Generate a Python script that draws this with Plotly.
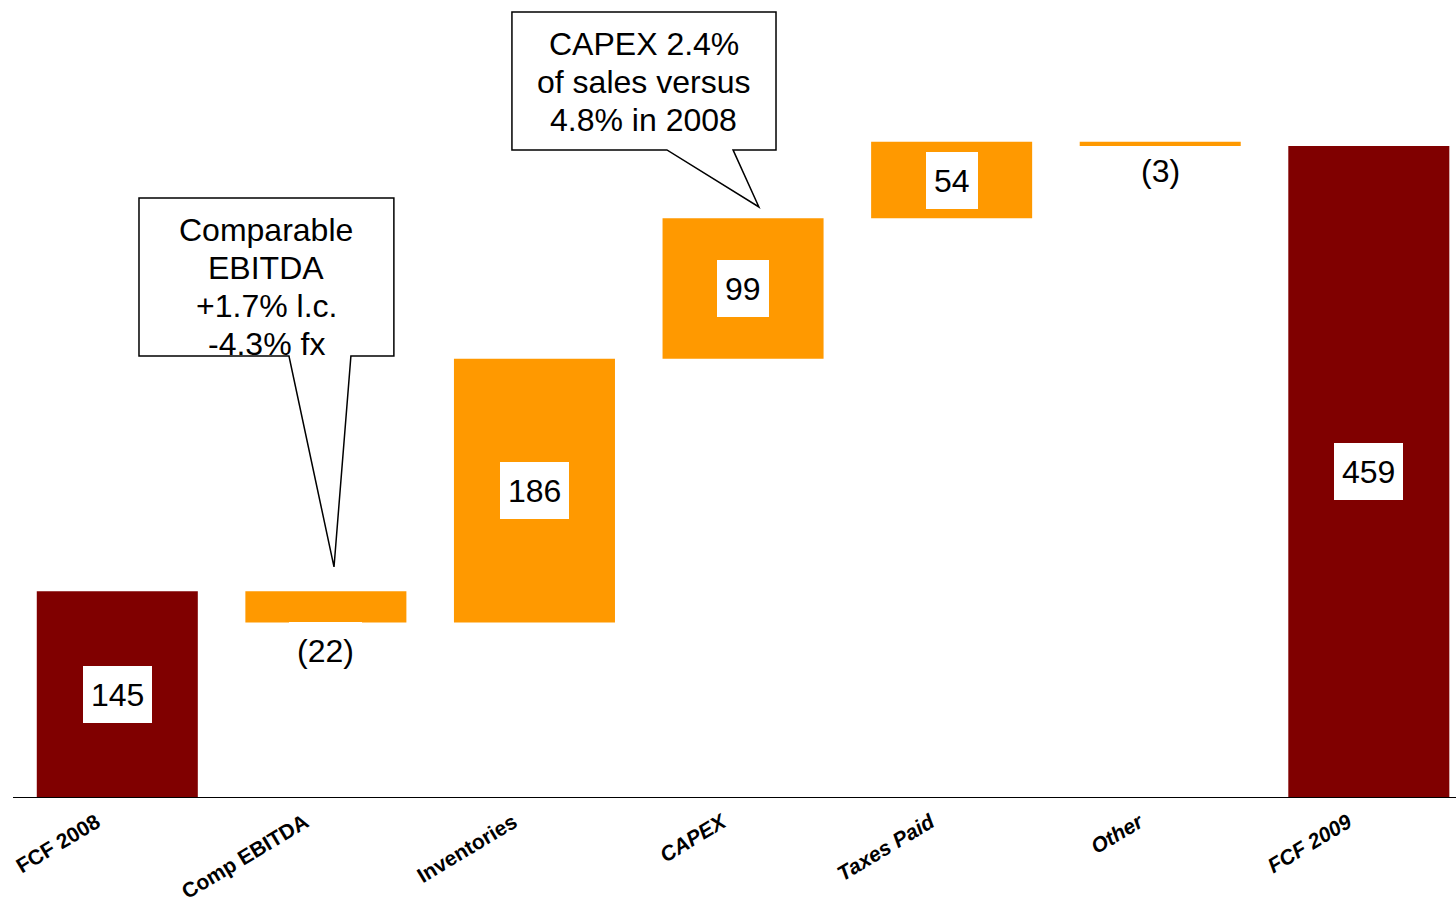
import plotly.graph_objects as go

# Free cash flow bridge, 2008 -> 2009
categories = ["FCF 2008", "Comp EBITDA", "Inventories", "CAPEX", "Taxes Paid", "Other", "FCF 2009"]
changes = [145, -22, 186, 99, 54, -3, 459]
measures = ["absolute", "relative", "relative", "relative", "relative", "relative", "total"]
tick_labels = [
    "<b>FCF 2008</b>", "<b>Comp EBITDA</b>", "<b>Inventories</b>",
    "<b><i>CAPEX</i></b>", "<b><i>Taxes Paid</i></b>", "<b><i>Other</i></b>", "<b><i>FCF 2009</i></b>",
]
callout_lines = [
    ["Comparable", "EBITDA", "+1.7% l.c.", "-4.3% fx"],
    ["CAPEX 2.4%", "of sales versus", "4.8% in 2008"],
]

ORANGE = "#FF9900"
DARK_RED = "#800000"
FONT = "Liberation Sans, Arial, sans-serif"

x = list(range(len(categories)))

fig = go.Figure(go.Waterfall(
    x=x,
    y=changes,
    measure=measures,
    width=0.772,
    increasing=dict(marker=dict(color=ORANGE)),
    decreasing=dict(marker=dict(color=ORANGE)),
    totals=dict(marker=dict(color=DARK_RED)),
    connector=dict(visible=False),
    hoverinfo="skip",
))

# bar extents from the running total
bottoms, tops = [], []
running = 0
for m, v in zip(measures, changes):
    if m == "absolute":
        lo, hi = 0, v
        running = v
    elif m == "total":
        lo, hi = 0, running
    else:
        lo, hi = sorted([running, running + v])
        running += v
    bottoms.append(lo)
    tops.append(hi)

annotations = []
for i, (m, v) in enumerate(zip(measures, changes)):
    if v < 0:
        thin = abs(v) <= 5
        annotations.append(dict(
            x=i, y=bottoms[i], text=f"({abs(v)})", showarrow=False, yanchor="top",
            yshift=4 if thin else 1,
            font=dict(family=FONT, size=32, color="black"),
            bgcolor="rgba(0,0,0,0)" if thin else "white",
            borderwidth=0, borderpad=8, height=41,
        ))
    else:
        annotations.append(dict(
            x=i, y=(bottoms[i] + tops[i]) / 2, text=str(v), showarrow=False,
            font=dict(family=FONT, size=32, color="black"),
            bgcolor="white", borderwidth=0, borderpad=8, height=41,
        ))

# speech-bubble callouts (box with a pointer)
def bubble(x0, x1, y0, y1, b0, b1, tx, ty):
    return (f"M {x0},{y1} L {x1},{y1} L {x1},{y0} L {b1},{y0} L {tx},{ty} "
            f"L {b0},{y0} L {x0},{y0} Z")

shapes = [
    dict(type="path", xref="x", yref="y",
         path=bubble(0.104, 1.326, 310.9, 422.3, 0.823, 1.120, 1.039, 162.2),
         fillcolor="white", line=dict(color="black", width=1.5), layer="above"),
    dict(type="path", xref="x", yref="y",
         path=bubble(1.892, 3.158, 456.2, 553.5, 2.635, 2.952, 3.076, 416.0),
         fillcolor="white", line=dict(color="black", width=1.5), layer="above"),
]

# callout text, one annotation per line for tight line spacing
callout_anchor = [(0.713, 399.9), (2.525, 530.9)]
line_step = 26.8
for (cx, cy), lines in zip(callout_anchor, callout_lines):
    for k, line in enumerate(lines):
        annotations.append(dict(x=cx, y=cy - k * line_step, text=line, showarrow=False,
                                font=dict(family=FONT, size=32, color="black")))

fig.update_layout(
    width=1456, height=907,
    margin=dict(l=13, r=0, t=0, b=110),
    plot_bgcolor="white", paper_bgcolor="white",
    showlegend=False,
    shapes=shapes,
    annotations=annotations,
    xaxis=dict(
        range=[-0.5, 6.418], tickmode="array", tickvals=x, ticktext=tick_labels,
        tickangle=-31, tickfont=dict(family=FONT, size=21, color="black"),
        ticklabelshift=-21, ticklabelstandoff=4, automargin=False,
        showline=True, linecolor="black", linewidth=1, showgrid=False,
        zeroline=False, ticks="",
    ),
    yaxis=dict(range=[0, 561.9], visible=False, showgrid=False, zeroline=False,
               automargin=False),
)

fig.write_html("out.html")
